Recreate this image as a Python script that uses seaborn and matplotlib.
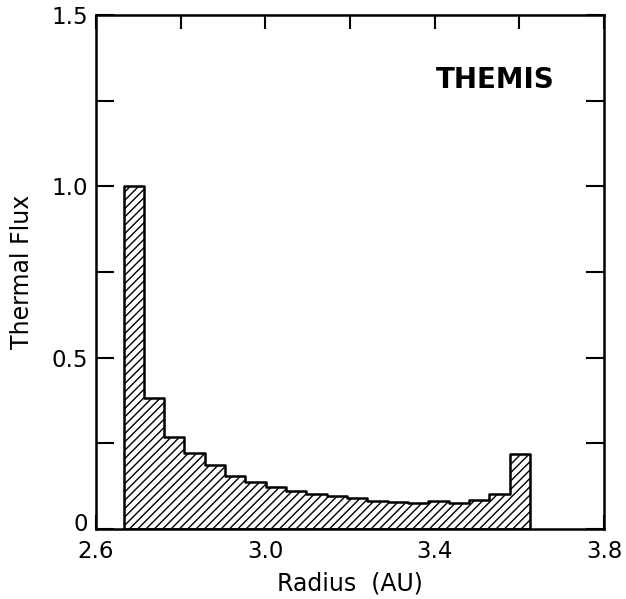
import matplotlib
matplotlib.use("Agg")
import matplotlib.pyplot as plt
from matplotlib.ticker import MultipleLocator, FixedLocator
from matplotlib.transforms import ScaledTranslation
import seaborn as sns

# Bin edges (AU) and thermal flux per bin
bin_edges = [2.665, 2.713, 2.761, 2.809, 2.857, 2.905, 2.953, 3.001, 3.049,
             3.097, 3.145, 3.193, 3.241, 3.289, 3.337, 3.385, 3.433, 3.481,
             3.529, 3.577, 3.625]
flux = [1.00, 0.381, 0.269, 0.221, 0.187, 0.155, 0.138, 0.124, 0.112,
        0.102, 0.096, 0.090, 0.082, 0.080, 0.077, 0.082, 0.075, 0.085,
        0.101, 0.219]
x_ticks = [2.6, 3.0, 3.4, 3.8]
x_ticklabels = ["2.6", "3.0", "3.4", "3.8"]
y_ticks = [0, 0.5, 1.0, 1.5]
y_ticklabels = ["0", "0.5", "1.0", "1.5"]

centers = [(a + b) / 2 for a, b in zip(bin_edges[:-1], bin_edges[1:])]

sns.set_theme(style="white")
plt.rcParams["font.family"] = ["DejaVu Sans"]
plt.rcParams["hatch.linewidth"] = 1.0

fig = plt.figure(figsize=(6.26, 5.99), dpi=100)
ax = fig.add_axes([96 / 626, 1 - 529 / 599, (604 - 96) / 626, (529 - 15) / 599])

sns.histplot(x=centers, weights=flux, bins=bin_edges, element="step",
             fill=True, color="black", linewidth=1.8, ax=ax)
for coll in ax.collections:
    coll.set_facecolor("white")
    coll.set_edgecolor("black")
    coll.set_hatch("////")
    coll.set_linewidth(1.8)
    coll.set_alpha(1)

ax.set_xlim(2.6, 3.8)
ax.set_ylim(0, 1.5)
ax.xaxis.set_major_locator(FixedLocator(x_ticks))
ax.set_xticklabels(x_ticklabels)
ax.xaxis.set_minor_locator(MultipleLocator(0.2))
ax.yaxis.set_major_locator(FixedLocator(y_ticks))
ax.set_yticklabels(y_ticklabels)
ax.yaxis.set_minor_locator(MultipleLocator(0.25))

ax.tick_params(axis="both", which="both", direction="in",
               top=True, right=True, bottom=True, left=True,
               color="black", width=1.5, labelsize=16.5, labelcolor="black")
ax.tick_params(axis="x", which="both", length=10, pad=8)
ax.tick_params(axis="y", which="both", length=13, pad=6)

# lift the "0" label slightly so it clears the "2.6" label below it
zero_lbl = ax.get_yticklabels()[0]
zero_lbl.set_transform(zero_lbl.get_transform() +
                       ScaledTranslation(0, 5 / 72, fig.dpi_scale_trans))

for s in ax.spines.values():
    s.set_visible(True)
    s.set_color("black")
    s.set_linewidth(1.8)

ax.set_xlabel("Radius  (AU)", fontsize=17, color="black", labelpad=6)
ax.set_ylabel("Thermal Flux", fontsize=17, color="black", labelpad=12)
ax.text(3.543, 1.31, "THEMIS", fontsize=20, fontweight="bold",
        ha="center", va="center", color="black")

fig.savefig("out.png", dpi=100, facecolor="white")
